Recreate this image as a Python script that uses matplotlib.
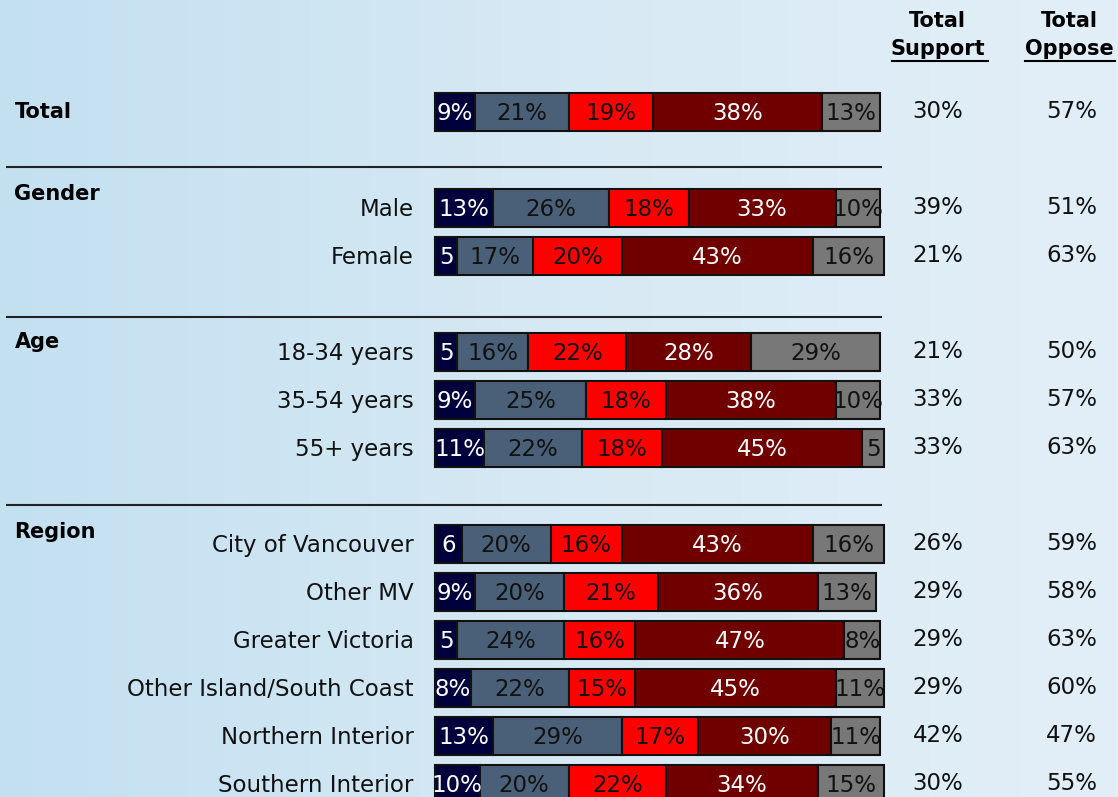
import numpy as np
import matplotlib.pyplot as plt
from matplotlib.colors import LinearSegmentedColormap

rows = ["Total", "Male", "Female", "18-34 years", "35-54 years", "55+ years",
        "City of Vancouver", "Other MV", "Greater Victoria",
        "Other Island/South Coast", "Northern Interior", "Southern Interior"]
row_pos = [0, 2, 3, 5, 6, 7, 9, 10, 11, 12, 13, 14]

strong_support = [9, 13, 5, 5, 9, 11, 6, 9, 5, 8, 13, 10]
some_support = [21, 26, 17, 16, 25, 22, 20, 20, 24, 22, 29, 20]
some_oppose = [19, 18, 20, 22, 18, 18, 16, 21, 16, 15, 17, 22]
strong_oppose = [38, 33, 43, 28, 38, 45, 43, 36, 47, 45, 30, 34]
not_sure = [13, 10, 16, 29, 10, 5, 16, 13, 8, 11, 11, 15]

# labels shown inside the bars (small ones have no % sign)
seg_labels = [
    ["9%", "13%", "5", "5", "9%", "11%", "6", "9%", "5", "8%", "13%", "10%"],
    ["21%", "26%", "17%", "16%", "25%", "22%", "20%", "20%", "24%", "22%", "29%", "20%"],
    ["19%", "18%", "20%", "22%", "18%", "18%", "16%", "21%", "16%", "15%", "17%", "22%"],
    ["38%", "33%", "43%", "28%", "38%", "45%", "43%", "36%", "47%", "45%", "30%", "34%"],
    ["13%", "10%", "16%", "29%", "10%", "5", "16%", "13%", "8%", "11%", "11%", "15%"],
]

total_support = ["30%", "39%", "21%", "21%", "33%", "33%", "26%", "29%", "29%", "29%", "42%", "30%"]
total_oppose = ["57%", "51%", "63%", "50%", "57%", "63%", "59%", "58%", "63%", "60%", "47%", "55%"]

groups = ["Total", "Gender", "Age", "Region"]
group_pos = [0, 1.7, 4.8, 8.75]
sep_pos = [1.15, 4.27, 8.19]

colors = ["#00003c", "#4a6078", "#ff0000", "#700000", "#787878"]
text_cols = ["white", "#111111", "#111111", "white", "#111111"]

fig = plt.figure(figsize=(11.18, 7.97), dpi=100)

# gradient background
bg = fig.add_axes([0, 0, 1, 1])
cmap = LinearSegmentedColormap.from_list("bg", ["#c3e0f1", "#d7e9f4", "#e3eff8"])
bg.imshow(np.linspace(0, 1, 256).reshape(1, -1), aspect="auto", cmap=cmap,
          extent=[0, 1, 0, 1])
bg.axis("off")

ax = fig.add_axes([0, 0, 1, 1])
ax.patch.set_alpha(0)
# 0% at x=435px, 100% at x=880px ; row 0 at y=112px, 48px per row
ppx = 4.45
ax.set_xlim(-435 / ppx, (1118 - 435) / ppx)
ax.set_ylim((797 - 112) / 48, -112 / 48)
ax.axis("off")

fs = 16.5
series = [strong_support, some_support, some_oppose, strong_oppose, not_sure]
left = np.zeros(len(rows))
for i, vals in enumerate(series):
    vals = np.array(vals, dtype=float)
    ax.barh(row_pos, vals, left=left, height=0.8, color=colors[i],
            edgecolor="#111111", linewidth=1.5)
    for j in range(len(rows)):
        ax.text(left[j] + vals[j] / 2, row_pos[j] + 0.03, seg_labels[i][j],
                ha="center", va="center", fontsize=fs, color=text_cols[i])
    left += vals

for j, name in enumerate(rows):
    if name != "Total":
        ax.text(-4.8, row_pos[j] + 0.04, name, ha="right", va="center",
                fontsize=fs, color="#111111")
    ax.text(113, row_pos[j], total_support[j], ha="center", va="center",
            fontsize=fs, color="#111111")
    ax.text(143, row_pos[j], total_oppose[j], ha="center", va="center",
            fontsize=fs, color="#111111")

for g, p in zip(groups, group_pos):
    ax.text(-94.5, p, g, ha="left", va="center", fontsize=15,
            fontweight="bold", color="black")

for s in sep_pos:
    ax.plot([-96.5, 100.5], [s, s], color="#222222", lw=1.5,
            solid_capstyle="butt")

# column headers
for xc, word, (x0, x1) in [(113, "Support", (102.6, 124.2)),
                           (142.5, "Oppose", (132.6, 152.8))]:
    ax.text(xc, -1.9, "Total", ha="center", va="center", fontsize=15,
            fontweight="bold", color="black")
    ax.text(xc, -1.32, word, ha="center", va="center", fontsize=15,
            fontweight="bold", color="black")
    ax.plot([x0, x1], [-1.07, -1.07], color="black", lw=1.5)

fig.savefig("out.png", dpi=100)
